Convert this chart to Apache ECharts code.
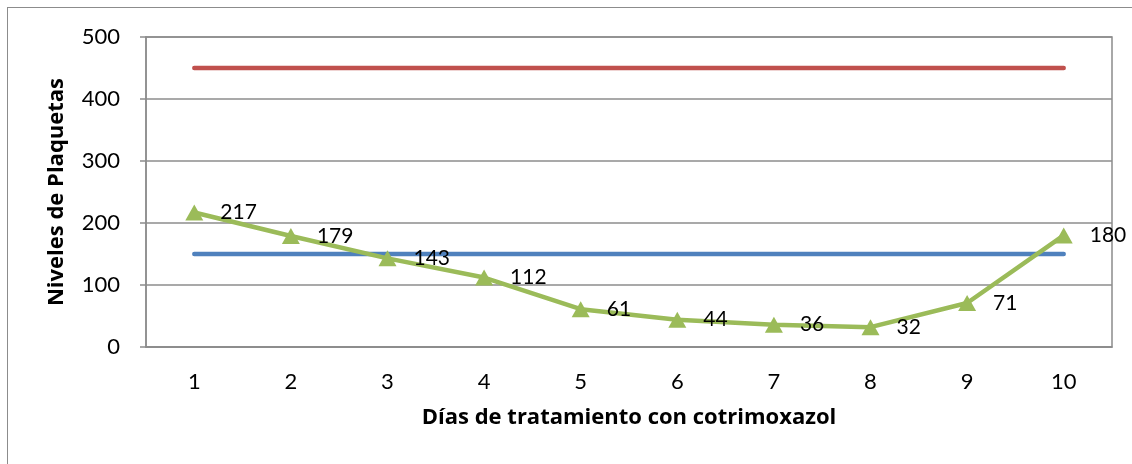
<!DOCTYPE html>
<html><head><meta charset="utf-8">
<script src="https://cdn.jsdelivr.net/npm/echarts@6/dist/echarts.min.js"></script>
<style>html,body{margin:0;padding:0;background:#fff}#c{width:1132px;height:464px}
#frame{position:absolute;left:7px;top:7px;width:1200px;height:600px;border:1.5px solid #8c8c8c;box-sizing:border-box;pointer-events:none}</style>
</head><body>
<div id="c"></div><div id="frame"></div>
<script>
const categories = ['1','2','3','4','5','6','7','8','9','10'];
const plaquetas = [217,179,143,112,61,44,36,32,71,180];
const limiteSuperior = [450,450,450,450,450,450,450,450,450,450];
const limiteInferior = [150,150,150,150,150,150,150,150,150,150];
const yTicks = {min:0,max:500,interval:100};
const FONT = 'Lato';
const TFONT = 'Open Sans';
const chart = echarts.init(document.getElementById('c'));
chart.setOption({
  animation:false,
  grid:{left:146,right:20,top:37,bottom:117,show:true,borderColor:'#8c8c8c',borderWidth:1.5},
  xAxis:{type:'category',data:categories,boundaryGap:true,
    axisLine:{lineStyle:{color:'#8c8c8c',width:1.5}},axisTick:{show:false},
    axisLabel:{color:'#000',fontFamily:FONT,fontSize:22,margin:24},
    name:'Días de tratamiento con cotrimoxazol',nameLocation:'middle',nameGap:60,
    nameTextStyle:{color:'#000',fontFamily:TFONT,fontSize:22,fontWeight:'bold'}},
  yAxis:{type:'value',min:yTicks.min,max:yTicks.max,interval:yTicks.interval,
    axisLine:{show:true,lineStyle:{color:'#8c8c8c',width:1.5}},
    axisTick:{show:true,length:6,lineStyle:{color:'#8c8c8c',width:1.5}},
    splitLine:{lineStyle:{color:'#8c8c8c',width:1.5}},
    axisLabel:{color:'#000',fontFamily:FONT,fontSize:22,margin:26},
    name:'Niveles de Plaquetas',nameLocation:'middle',nameGap:78,
    nameTextStyle:{color:'#000',fontFamily:TFONT,fontSize:22,fontWeight:'bold'}},
  series:[
    {type:'line',data:limiteSuperior,symbol:'none',lineStyle:{color:'#C0504D',width:4.5,cap:'round'},z:2},
    {type:'line',data:limiteInferior,symbol:'none',lineStyle:{color:'#4F81BD',width:4.5,cap:'round'},z:2},
    {type:'line',data:plaquetas,symbol:'triangle',symbolSize:[18,16],
      itemStyle:{color:'#9BBB59'},lineStyle:{color:'#9BBB59',width:4.5},z:3,
      label:{show:true,position:'right',distance:17,color:'#000',fontFamily:FONT,fontSize:21}}
  ]
});
</script></body></html>
